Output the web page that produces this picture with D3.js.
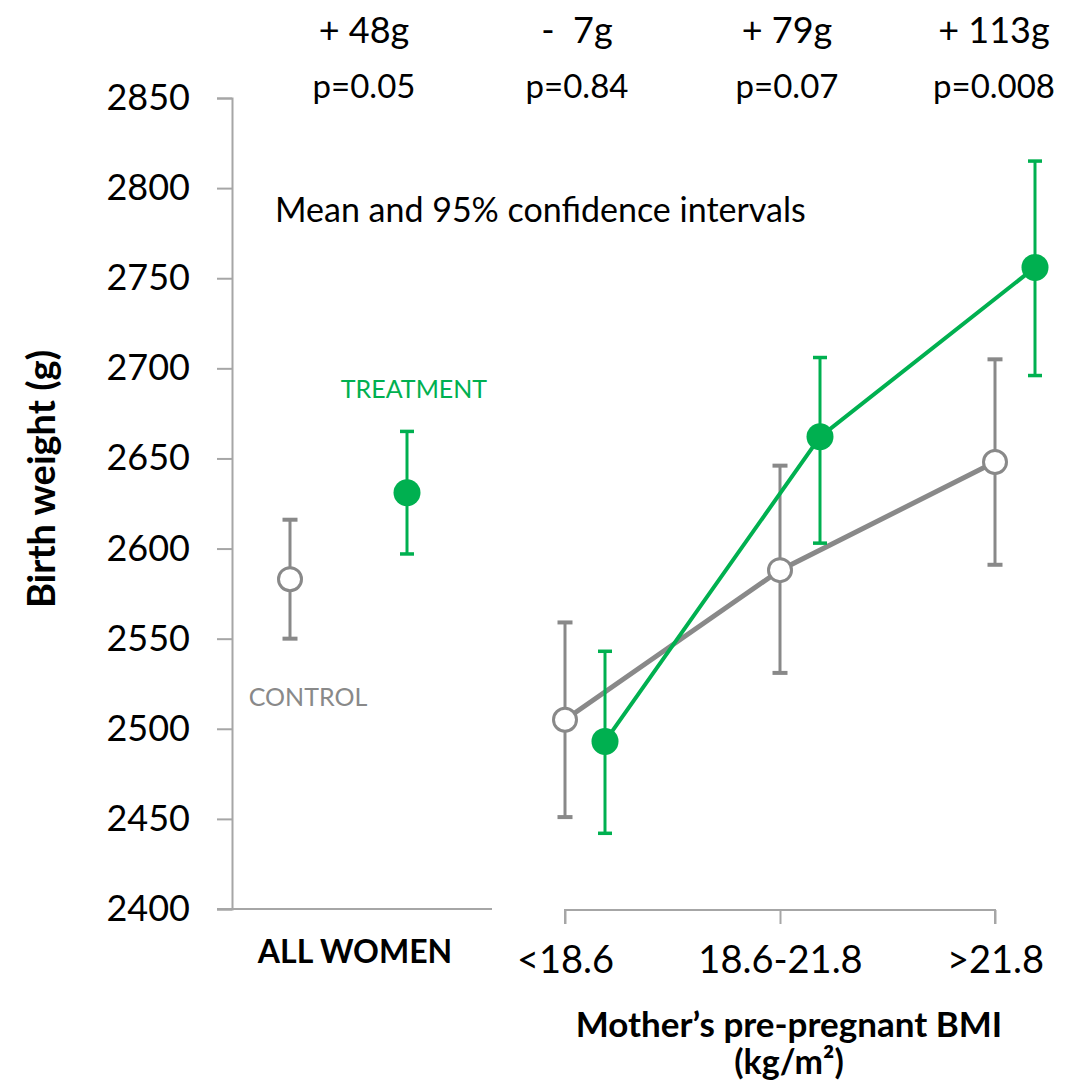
<!DOCTYPE html>
<html>
<head>
<meta charset="utf-8">
<script src="https://cdn.jsdelivr.net/npm/d3@7"></script>
<style>
  body { margin: 0; background: #fff; }
  svg { display: block; }
  text { font-family: Lato, "Open Sans", sans-serif; }
</style>
</head>
<body>
<svg id="chart" width="1072" height="1085"></svg>
<script>
// ---- data ----
const groupNames = ["CONTROL", "TREATMENT"];
const allControl = { mean: 2583, low: 2550, high: 2616 };
const allTreatment = { mean: 2631, low: 2597, high: 2665 };

const bmiCategories = ["<18.6", "18.6-21.8", ">21.8"];
const controlMean = [2505, 2588, 2648];
const controlLow  = [2451, 2531, 2591];
const controlHigh = [2559, 2646, 2705];
const treatmentMean = [2493, 2662, 2756];
const treatmentLow  = [2442, 2603, 2696];
const treatmentHigh = [2543, 2706, 2815];

const yTicks = [2400, 2450, 2500, 2550, 2600, 2650, 2700, 2750, 2800, 2850];
const diffLabels = ["+ 48g", "-  7g", "+ 79g", "+ 113g"];
const pLabels = ["p=0.05", "p=0.84", "p=0.07", "p=0.008"];

// ---- styles ----
const GRAY = "#898989";
const GREEN = "#00B050";
const AXIS = "#A6A6A6";

const svg = d3.select("#chart");

const y = d3.scaleLinear().domain([2400, 2850]).range([909, 98]);
const xAll = d3.scalePoint().domain(groupNames).range([290, 407]);
const xBmi = d3.scalePoint().domain(bmiCategories).range([565, 995]);
const tOffset = 40;

// y axis
const yAxis = svg.append("g").attr("transform", "translate(232,0)")
  .call(d3.axisLeft(y).tickValues(yTicks).tickSize(15).tickPadding(27).tickFormat(d3.format("d")));
yAxis.select(".domain").attr("stroke", AXIS).attr("stroke-width", 2);
yAxis.selectAll(".tick line").attr("stroke", AXIS).attr("stroke-width", 2);
yAxis.selectAll(".tick text").attr("font-size", 36).attr("fill", "#000")
  .attr("font-family", "Lato, sans-serif");

// left panel bottom line
svg.append("line").attr("x1", 217).attr("x2", 492).attr("y1", y(2400)).attr("y2", y(2400))
  .attr("stroke", AXIS).attr("stroke-width", 2);

// right panel x axis
const xAxis = svg.append("g").attr("transform", `translate(0,${y(2400) + 1})`)
  .call(d3.axisBottom(xBmi).tickSize(14).tickSizeOuter(14).tickPadding(22));
xAxis.select(".domain").attr("stroke", AXIS).attr("stroke-width", 2)
  .attr("d", `M${xBmi(bmiCategories[0])},14V0H${xBmi(bmiCategories[2])}V14`);
xAxis.selectAll(".tick line").attr("stroke", AXIS).attr("stroke-width", 2);
xAxis.selectAll(".tick text").attr("font-size", 38).attr("fill", "#000")
  .attr("font-family", "Lato, sans-serif");

// helper: error bar
function errorBar(x, lo, hi, color, w, capW, capH) {
  svg.append("line").attr("x1", x).attr("x2", x).attr("y1", y(lo)).attr("y2", y(hi))
    .attr("stroke", color).attr("stroke-width", w);
  [lo, hi].forEach(v => {
    svg.append("line").attr("x1", x - capW / 2).attr("x2", x + capW / 2)
      .attr("y1", y(v)).attr("y2", y(v)).attr("stroke", color).attr("stroke-width", capH);
  });
}

const line = d3.line().x(d => d[0]).y(d => d[1]);

// control line + bars
svg.append("path")
  .datum(bmiCategories.map((c, i) => [xBmi(c), y(controlMean[i])]))
  .attr("d", line).attr("fill", "none").attr("stroke", GRAY).attr("stroke-width", 5);
errorBar(xAll("CONTROL"), allControl.low, allControl.high, GRAY, 3, 15, 4);
bmiCategories.forEach((c, i) => errorBar(xBmi(c), controlLow[i], controlHigh[i], GRAY, 3, 15, 4));

// treatment line + bars
svg.append("path")
  .datum(bmiCategories.map((c, i) => [xBmi(c) + tOffset, y(treatmentMean[i])]))
  .attr("d", line).attr("fill", "none").attr("stroke", GREEN).attr("stroke-width", 4);
errorBar(xAll("TREATMENT"), allTreatment.low, allTreatment.high, GREEN, 3, 14, 3.5);
bmiCategories.forEach((c, i) => errorBar(xBmi(c) + tOffset, treatmentLow[i], treatmentHigh[i], GREEN, 3, 14, 3.5));

// markers
function ctrlMarker(x, v) {
  svg.append("circle").attr("cx", x).attr("cy", y(v)).attr("r", 11.5)
    .attr("fill", "#fff").attr("stroke", GRAY).attr("stroke-width", 3);
}
function treatMarker(x, v) {
  svg.append("circle").attr("cx", x).attr("cy", y(v)).attr("r", 13.5).attr("fill", GREEN);
}
ctrlMarker(xAll("CONTROL"), allControl.mean);
treatMarker(xAll("TREATMENT"), allTreatment.mean);
bmiCategories.forEach((c, i) => {
  ctrlMarker(xBmi(c), controlMean[i]);
  treatMarker(xBmi(c) + tOffset, treatmentMean[i]);
});

// labels
svg.append("text").attr("x", 308).attr("y", 696).attr("dominant-baseline", "central")
  .attr("text-anchor", "middle").attr("font-size", 25).attr("fill", GRAY).text("CONTROL");
svg.append("text").attr("x", 414).attr("y", 388).attr("dominant-baseline", "central")
  .attr("text-anchor", "middle").attr("font-size", 25).attr("fill", GREEN).text("TREATMENT");
svg.append("text").attr("x", 275).attr("y", 222).attr("font-size", 34).attr("fill", "#000")
  .text("Mean and 95% confidence intervals");

// top annotations
const annX = [364, xBmi(bmiCategories[0]) + 12, xBmi(bmiCategories[1]) + 7, xBmi(bmiCategories[2]) - 1];
diffLabels.forEach((t, i) => {
  svg.append("text").attr("x", annX[i]).attr("y", 43).attr("text-anchor", "middle")
    .attr("font-size", 36).attr("fill", "#000").style("white-space", "pre").text(t);
});
pLabels.forEach((t, i) => {
  svg.append("text").attr("x", annX[i]).attr("y", 98).attr("text-anchor", "middle")
    .attr("font-size", 33).attr("fill", "#000").text(t);
});

// axis titles
svg.append("text").attr("transform", "translate(40,479) rotate(-90)")
  .attr("text-anchor", "middle").attr("dominant-baseline", "central")
  .attr("font-size", 38).attr("font-weight", "bold").attr("fill", "#000").text("Birth weight (g)");
svg.append("text").attr("x", 355).attr("y", 950).attr("text-anchor", "middle").attr("dominant-baseline", "central")
  .attr("font-size", 32).attr("font-weight", "bold").attr("fill", "#000").text("ALL WOMEN");
svg.append("text").attr("x", 789).attr("y", 1037).attr("text-anchor", "middle")
  .attr("font-size", 35).attr("font-weight", "bold").attr("fill", "#000").text("Mother’s pre-pregnant BMI");
svg.append("text").attr("x", 789).attr("y", 1074).attr("text-anchor", "middle")
  .attr("font-size", 34).attr("font-weight", "bold").attr("fill", "#000").text("(kg/m²)");
</script>
</body>
</html>
